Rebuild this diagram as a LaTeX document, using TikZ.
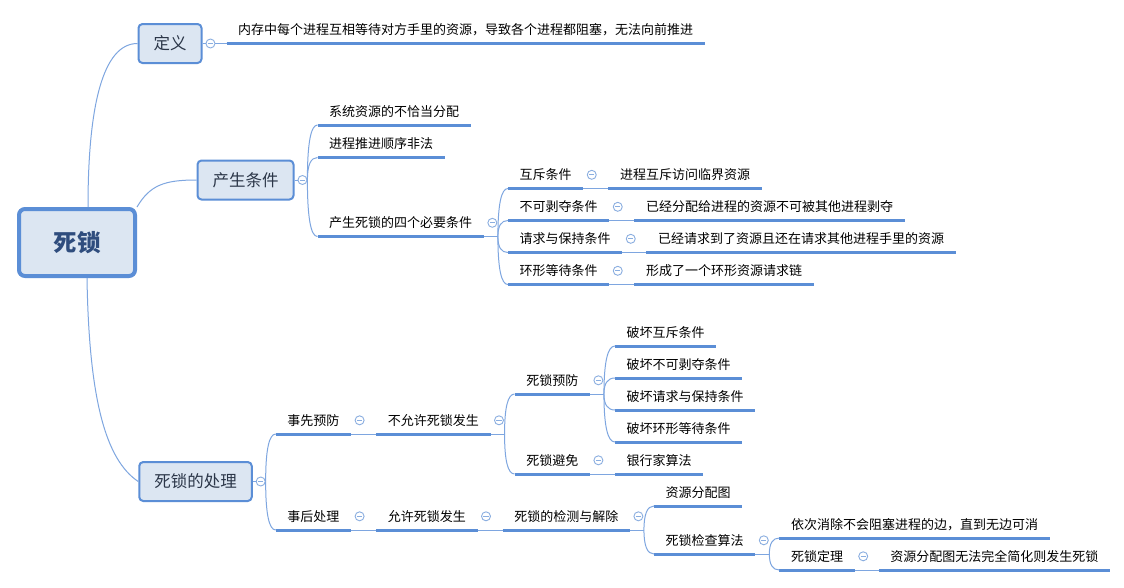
\documentclass[tikz,border=0pt]{standalone}
\usepackage{fontspec}
\setmainfont{Noto Sans CJK SC}
\usepackage{tikz}
\usetikzlibrary{positioning,calc}
\definecolor{boxfill}{HTML}{DCE6F2}
\definecolor{boxstroke}{HTML}{5B8ED6}
\definecolor{rootink}{HTML}{2F4D7E}
\definecolor{boxink}{HTML}{2B3648}
\definecolor{linkblue}{HTML}{7EA6E0}
\definecolor{foldblue}{HTML}{8AAEE0}
\tikzset{
  rootbox/.style={
    rectangle,
    rounded corners=6pt,
    draw=boxstroke,
    line width=4pt,
    fill=boxfill,
    minimum width=116pt,
    minimum height=67pt,
    text=rootink,
    font=\fontsize{23.5}{26}\selectfont\bfseries,
    text height=19pt,
    text depth=1.2pt
  },
  topbox/.style={
    rectangle,
    rounded corners=4pt,
    draw=boxstroke,
    line width=2pt,
    fill=boxfill,
    minimum height=39pt,
    inner xsep=15pt,
    text=boxink,
    font=\fontsize{16.5}{19}\selectfont,
    text height=14pt,
    text depth=1.4pt
  },
  topic/.style={
    inner xsep=11.5pt,
    inner ysep=6.95pt,
    text height=11.5pt,
    text depth=1.6pt,
    text=black,
    font=\fontsize{13}{15}\selectfont,
    append after command={(\tikzlastnode.south west) edge[uline] (\tikzlastnode.south east)}
  },
  uline/.style={draw=boxstroke,line width=3pt},
  fold/.style={
    circle,
    draw=foldblue,
    fill=white,
    line width=0.9pt,
    minimum size=9pt,
    inner sep=0pt,
    path picture={\draw[foldblue,line width=1pt]
      ([xshift=-2.6pt]path picture bounding box.center) --
      ([xshift=2.6pt]path picture bounding box.center);}
  },
  link/.style={draw=linkblue,line width=1pt},
  branch/.style={to path={
    .. controls ($(\tikztostart)!0.667!(\tikztostart |- \tikztotarget)$)
    and ($(\tikztotarget)!0.667!(\tikztostart |- \tikztotarget)$) .. (\tikztotarget)}}
}
\begin{document}
\begin{tikzpicture}[x=1pt,y=-1pt]
  \path[use as bounding box,fill=white] (0,0) rectangle (1124,587);

  \node[rootbox] (deadlock) at (77,242.5) {死锁};

  \node[topbox] (define) at (170,43.5) {定义};
  \node[topbox] (cause) at (245.5,180) {产生条件};
  \node[topbox] (handle) at (195.5,481.5) {死锁的处理};

  \node[fold, right=3pt of define] (f-define) {};
  \node[fold, right=3pt of cause] (f-cause) {};
  \node[fold, right=3pt of handle] (f-handle) {};

  % definition
  \node[topic, right=24pt of define, anchor=south west] (def-text) {内存中每个进程互相等待对方手里的资源，导致各个进程都阻塞，无法向前推进};

  % causes
  \node[topic, right=23pt of cause, anchor=south west, yshift=55pt] (misalloc) {系统资源的不恰当分配};
  \node[topic, right=23pt of cause, anchor=south west, yshift=22.5pt] (badorder) {进程推进顺序非法};
  \node[topic, right=23pt of cause, anchor=south west, yshift=-56.5pt] (four) {产生死锁的四个必要条件};

  \node[topic, right=24pt of four, yshift=48pt] (mutex) {互斥条件};
  \node[topic, right=24pt of four, yshift=16pt] (nopre) {不可剥夺条件};
  \node[topic, right=24pt of four, yshift=-16pt] (hold) {请求与保持条件};
  \node[topic, right=24pt of four, yshift=-48pt] (circwait) {环形等待条件};

  \node[topic, right=25pt of mutex] (mutex-d) {进程互斥访问临界资源};
  \node[topic, right=25pt of nopre] (nopre-d) {已经分配给进程的资源不可被其他进程剥夺};
  \node[topic, right=24pt of hold] (hold-d) {已经请求到了资源且还在请求其他进程手里的资源};
  \node[topic, right=25pt of circwait] (circwait-d) {形成了一个环形资源请求链};

  % handling
  \node[topic, right=23pt of handle, anchor=south west, yshift=47.5pt] (before) {事先预防};
  \node[topic, right=23pt of handle, anchor=south west, yshift=-48.5pt] (after) {事后处理};

  \node[topic, right=25pt of before] (forbid) {不允许死锁发生};
  \node[topic, right=24pt of forbid, yshift=40pt] (prevent) {死锁预防};
  \node[topic, right=24pt of forbid, yshift=-40pt] (avoid) {死锁避免};

  \node[topic, right=25pt of prevent, yshift=48pt] (breakmutex) {破坏互斥条件};
  \node[topic, right=25pt of prevent, yshift=16pt] (breaknopre) {破坏不可剥夺条件};
  \node[topic, right=25pt of prevent, yshift=-16pt] (breakhold) {破坏请求与保持条件};
  \node[topic, right=25pt of prevent, yshift=-48pt] (breakcirc) {破坏环形等待条件};
  \node[topic, right=25pt of avoid] (banker) {银行家算法};

  \node[topic, right=25pt of after] (allow) {允许死锁发生};
  \node[topic, right=25pt of allow] (detect) {死锁的检测与解除};
  \node[topic, right=24pt of detect, yshift=24pt] (rag) {资源分配图};
  \node[topic, right=24pt of detect, yshift=-24pt] (check) {死锁检查算法};
  \node[topic, right=24pt of check, yshift=16pt] (reduce) {依次消除不会阻塞进程的边，直到无边可消};
  \node[topic, right=24pt of check, yshift=-16pt] (theorem) {死锁定理};
  \node[topic, right=24pt of theorem] (theorem-d) {资源分配图无法完全简化则发生死锁};

  % fold markers
  \node[fold, right=3.5pt of four] (f-four) {};
  \node[fold, right=3.5pt of mutex] (f-mutex) {};
  \node[fold, right=3.5pt of nopre] (f-nopre) {};
  \node[fold, right=3.5pt of hold] (f-hold) {};
  \node[fold, right=3.5pt of circwait] (f-circwait) {};
  \node[fold, right=3.5pt of before] (f-before) {};
  \node[fold, right=3.5pt of after] (f-after) {};
  \node[fold, right=3.5pt of forbid] (f-forbid) {};
  \node[fold, right=3.5pt of prevent] (f-prevent) {};
  \node[fold, right=3.5pt of avoid] (f-avoid) {};
  \node[fold, right=3.5pt of allow] (f-allow) {};
  \node[fold, right=3.5pt of detect] (f-detect) {};
  \node[fold, right=3.5pt of check] (f-check) {};
  \node[fold, right=3.5pt of theorem] (f-theorem) {};

  \coordinate[right=14pt of four.south east] (four-split);
  \coordinate[right=14pt of forbid.south east] (forbid-split);
  \coordinate[right=14pt of prevent.south east] (prevent-split);
  \coordinate[right=14pt of detect.south east] (detect-split);
  \coordinate[right=14pt of check.south east] (check-split);

  % root branches
  \draw[link] ([xshift=11pt]deadlock.north) .. controls +(0,-100) and +(-35,0) .. (define.west);
  \draw[link] (deadlock.north east) .. controls +(13,-22) and +(-32,0) .. (cause.west);
  \draw[link] ([xshift=10pt]deadlock.south) .. controls +(2,120) and +(-33,-22) .. (handle.west);

  \draw[link] (define) -- (f-define) -- (def-text.south west);

  \draw[link] (cause) -- (f-cause);
  \draw[link] (f-cause.east) to[branch] (misalloc.south west);
  \draw[link] (f-cause.east) to[branch] (badorder.south west);
  \draw[link] (f-cause.east) to[branch] (four.south west);

  \draw[link] (four.south east) -- (four-split);
  \draw[link] (four-split) to[branch] (mutex.south west);
  \draw[link] (four-split) to[branch] (nopre.south west);
  \draw[link] (four-split) to[branch] (hold.south west);
  \draw[link] (four-split) to[branch] (circwait.south west);

  \draw[link] (mutex.south east) -- (mutex-d.south west);
  \draw[link] (nopre.south east) -- (nopre-d.south west);
  \draw[link] (hold.south east) -- (hold-d.south west);
  \draw[link] (circwait.south east) -- (circwait-d.south west);

  \draw[link] (handle) -- (f-handle);
  \draw[link] (f-handle.east) to[branch] (before.south west);
  \draw[link] (f-handle.east) to[branch] (after.south west);

  \draw[link] (before.south east) -- (forbid.south west);
  \draw[link] (forbid.south east) -- (forbid-split);
  \draw[link] (forbid-split) to[branch] (prevent.south west);
  \draw[link] (forbid-split) to[branch] (avoid.south west);

  \draw[link] (prevent.south east) -- (prevent-split);
  \draw[link] (prevent-split) to[branch] (breakmutex.south west);
  \draw[link] (prevent-split) to[branch] (breaknopre.south west);
  \draw[link] (prevent-split) to[branch] (breakhold.south west);
  \draw[link] (prevent-split) to[branch] (breakcirc.south west);
  \draw[link] (avoid.south east) -- (banker.south west);

  \draw[link] (after.south east) -- (allow.south west);
  \draw[link] (allow.south east) -- (detect.south west);
  \draw[link] (detect.south east) -- (detect-split);
  \draw[link] (detect-split) to[branch] (rag.south west);
  \draw[link] (detect-split) to[branch] (check.south west);

  \draw[link] (check.south east) -- (check-split);
  \draw[link] (check-split) to[branch] (reduce.south west);
  \draw[link] (check-split) to[branch] (theorem.south west);
  \draw[link] (theorem.south east) -- (theorem-d.south west);
\end{tikzpicture}
\end{document}
